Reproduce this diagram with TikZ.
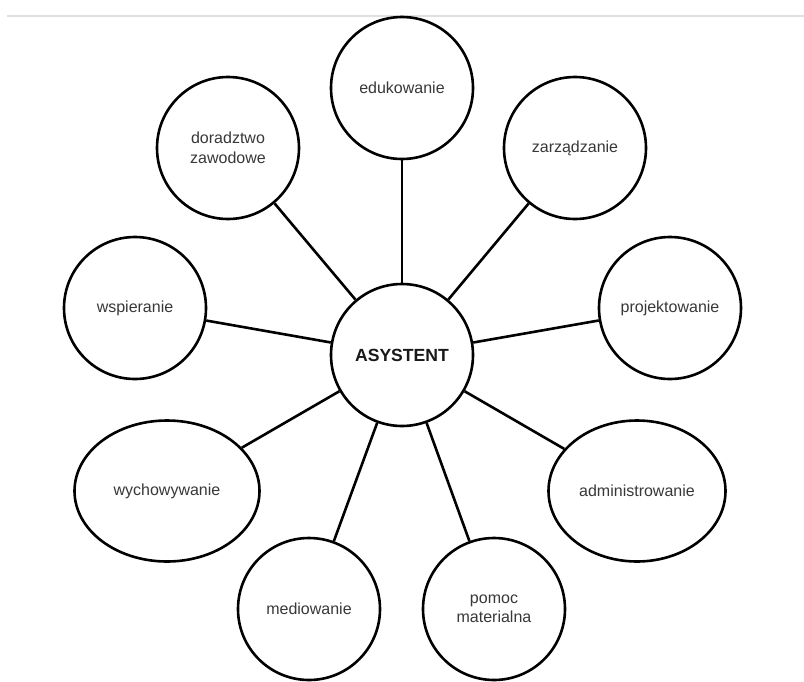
\documentclass[tikz,border=0pt]{standalone}
\usepackage{fontspec}
\setmainfont{Liberation Sans}
\usetikzlibrary{shapes.geometric}

\begin{document}
\begin{tikzpicture}[x=1pt,y=-1pt,line width=2.6pt,font=\fontsize{16}{19.5}\selectfont]
  \tikzstyle{task}=[circle,draw=black,fill=white,text=black!78,inner sep=0pt,minimum size=142pt,align=center]
  \tikzstyle{wide task}=[task,ellipse,minimum height=141pt]

  \useasboundingbox (0,0) rectangle (804,681);
  \draw[black!12,line width=1.6pt] (7,16) -- (804,16);

  \node[task,text=black!90,font=\fontsize{17.6}{21}\selectfont\bfseries] (hub) at (402,355) {ASYSTENT};
  \node[task] (edu)  at (402,88)  {edukowanie};
  \node[task] (zarz) at (575,148) {zarządzanie};
  \node[task] (dor)  at (228,148) {doradztwo\\zawodowe};
  \node[task] (wsp)  at (135,308) {wspieranie};
  \node[task] (proj) at (670,308) {projektowanie};
  \node[wide task,minimum width=185pt] (wych) at (167,491) {wychowywanie};
  \node[wide task,minimum width=177pt] (adm)  at (637,491) {administrowanie};
  \node[task] (med)  at (309,609) {mediowanie};
  \node[task] (pom)  at (494,609) {pomoc\\materialna};

  \path
  (hub) edge (edu)
  (hub) edge (zarz)
  (hub) edge (dor)
  (hub) edge (wsp)
  (hub) edge (proj)
  (hub) edge (wych)
  (hub) edge (adm)
  (hub) edge (med)
  (hub) edge (pom);
\end{tikzpicture}
\end{document}
